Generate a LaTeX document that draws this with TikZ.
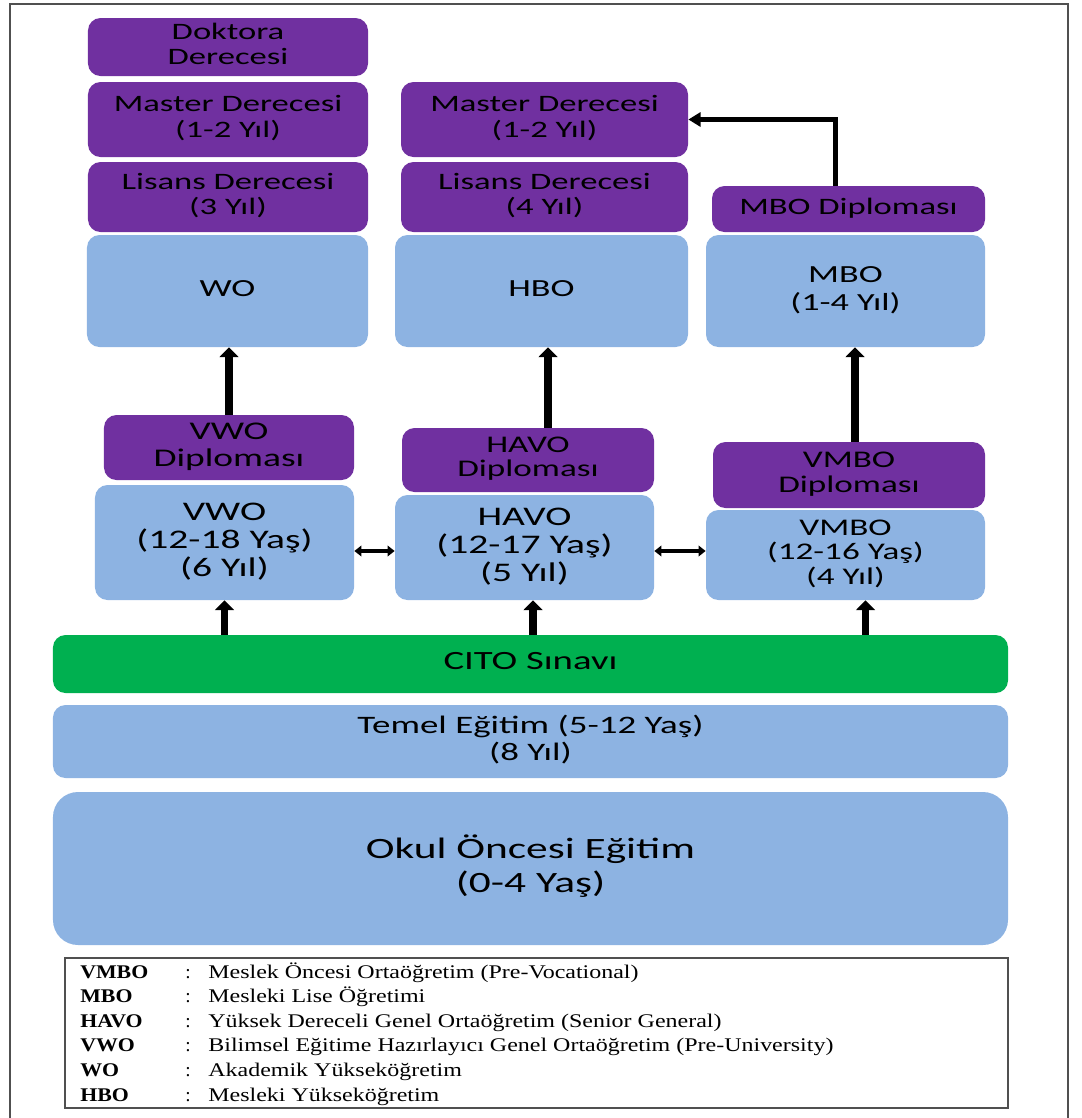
\documentclass[tikz,border=0pt]{standalone}
\usepackage{fontspec}
\setmainfont{Carlito}
\newfontfamily\legendfont{Liberation Serif}
\usepackage{graphicx}
\usetikzlibrary{positioning,arrows.meta}
\definecolor{cDeg}{RGB}{112,48,160}
\definecolor{cLvl}{RGB}{141,179,226}
\definecolor{cCito}{RGB}{0,176,80}
\definecolor{cFrame}{RGB}{80,80,80}
% box texts are set wide, as in the reference
\newcommand{\wtxt}[1]{\scalebox{1.47}[1]{\begin{tabular}{@{}c@{}}#1\end{tabular}}}
\newcommand{\ltxt}[1]{\scalebox{1.24}[1]{#1}}

\begin{document}
\begin{tikzpicture}[x=0.2mm,y=-0.2mm,
   box/.style={rounded corners=2.5mm,inner sep=0pt,text=black,font=\fontsize{13.4}{14.6}\selectfont},
   degbox/.style={box,fill=cDeg},
   lvlbox/.style={box,fill=cLvl},
   uparrow/.style={line width=4.2pt,-{Triangle[length=5.5pt,width=10.5pt]}},
   sidearrow/.style={line width=2.3pt,-{Triangle[length=7pt,width=8pt]}},
   twoway/.style={line width=2pt,{Triangle[length=4pt,width=6pt]}-{Triangle[length=4pt,width=6pt]}},
   legtxt/.style={anchor=base west,inner sep=0pt,font=\legendfont\fontsize{11}{13}\selectfont}]
 \useasboundingbox (0,0) rectangle (1082,1118);
 \draw[cFrame,line width=1.2pt] (10,1118) -- (10,4) -- (1068,4) -- (1068,1118);
 % university column (WO)
 \node[degbox,minimum width=56mm,minimum height=11.6mm] (doktora) at (228,47) {\wtxt{Doktora\\Derecesi}};
 \node[degbox,minimum width=56mm,minimum height=15mm] (master1) at (228,119.5) {\wtxt{Master Derecesi\\(1-2 Yıl)}};
 \node[degbox,minimum width=56mm,minimum height=14mm] (lisans1) at (228,197) {\wtxt{Lisans Derecesi\\(3 Yıl)}};
 \node[lvlbox,minimum width=56.2mm,minimum height=22.4mm,font=\fontsize{14}{15}\selectfont] (wo) at (227.5,291) {\wtxt{WO}};
 % HBO column
 \node[degbox,minimum width=57.4mm,minimum height=15mm] (master2) at (544.5,119.5) {\wtxt{Master Derecesi\\(1-2 Yıl)}};
 \node[degbox,minimum width=57.4mm,minimum height=14mm] (lisans2) at (544.5,197) {\wtxt{Lisans Derecesi\\(4 Yıl)}};
 \node[lvlbox,minimum width=58.6mm,minimum height=22.4mm,font=\fontsize{14}{15}\selectfont] (hbo) at (541.5,291) {\wtxt{HBO}};
 % MBO column
 \node[degbox,minimum width=54.6mm,minimum height=9.2mm] (mbodip) at (848.5,209) {\wtxt{MBO Diplomas\i}};
 \node[lvlbox,minimum width=55.8mm,minimum height=22.4mm,font=\fontsize{14}{15.5}\selectfont] (mbo) at (845.5,291) {\wtxt{MBO\\(1-4 Yıl)}};
 % secondary level
 \node[degbox,minimum width=50mm,minimum height=13mm,font=\fontsize{14.5}{15.5}\selectfont] (vwodip) at (229,447.5) {\wtxt{VWO\\Diplomas\i}};
 \node[lvlbox,minimum width=51.8mm,minimum height=23mm,font=\fontsize{15.3}{15.8}\selectfont] (vwo) at (224.5,542.5) {\wtxt{VWO\\(12-18 Yaş)\\(6 Yıl)}};
 \node[degbox,minimum width=50.4mm,minimum height=12.8mm,font=\fontsize{13.6}{12.5}\selectfont] (havodip) at (528,460) {\wtxt{HAVO\\Diplomas\i}};
 \node[lvlbox,minimum width=51.8mm,minimum height=21mm,font=\fontsize{15.3}{15.8}\selectfont] (havo) at (524.5,547.5) {\wtxt{HAVO\\(12-17 Yaş)\\(5 Yıl)}};
 \node[degbox,minimum width=54.4mm,minimum height=13.2mm,font=\fontsize{13.6}{14.2}\selectfont] (vmbodip) at (849,475) {\wtxt{VMBO\\Diplomas\i}};
 \node[lvlbox,minimum width=55.8mm,minimum height=18mm,font=\fontsize{13.6}{14}\selectfont] (vmbo) at (845.5,555) {\wtxt{VMBO\\(12-16 Yaş)\\(4 Yıl)}};
 % common base
 \node[box,fill=cCito,minimum width=191mm,minimum height=11.6mm,font=\fontsize{15}{16}\selectfont] (cito) at (530.5,664) {\wtxt{CITO S\i nav\i}};
 \node[lvlbox,minimum width=191mm,minimum height=14.6mm,font=\fontsize{14.3}{15.8}\selectfont] (temel) at (530.5,741.5) {\wtxt{Temel Eğitim (5-12 Yaş)\\(8 Yıl)}};
 \node[lvlbox,rounded corners=5mm,minimum width=191mm,minimum height=30.6mm,font=\fontsize{16.8}{19.3}\selectfont] (okul) at (530.5,868.5) {\wtxt{Okul Öncesi Eğitim\\(0-4 Yaş)}};
 % arrows
 \draw[uparrow] (vwodip.north) -- (vwodip.north |- wo.south);
 \draw[uparrow] ([xshift=4mm]havodip.north) -- ([xshift=4mm]havodip.north |- hbo.south);
 \draw[uparrow] ([xshift=1.2mm]vmbodip.north) -- ([xshift=1.2mm]vmbodip.north |- mbo.south);
 \draw[sidearrow] ([xshift=-2.6mm]mbodip.north) |- (master2.east);
 \foreach \s/\dx in {vwo/0mm,havo/1.7mm,vmbo/4mm}
   \draw[uparrow] ([xshift=\dx]\s.south |- cito.north) -- ([xshift=\dx]\s.south);
 \coordinate (midy) at (0,551);
 \draw[twoway] (vwo.east |- midy) -- (havo.west |- midy);
 \draw[twoway] (havo.east |- midy) -- (vmbo.west |- midy);
 % legend
 \draw[cFrame,line width=1pt] (65,958) rectangle (1008,1108);
 \foreach \ab/\desc [count=\r] in {VMBO/{Meslek Öncesi Ortaöğretim (Pre-Vocational)},
     MBO/{Mesleki Lise Öğretimi},
     HAVO/{Yüksek Dereceli Genel Ortaöğretim (Senior General)},
     VWO/{Bilimsel Eğitime Hazırlayıcı Genel Ortaöğretim (Pre-University)},
     WO/{Akademik Yükseköğretim},
     HBO/{Mesleki Yükseköğretim}} {
   \pgfmathsetmacro{\ly}{978+(\r-1)*24.6}
   \node[legtxt,font=\legendfont\fontsize{11}{13}\selectfont\bfseries] (ab\r) at (80,\ly) {\scalebox{1.13}[1]{\ab}};
   \node[legtxt] (col\r) at (185,\ly) {:};
   \node[legtxt] (desc\r) at (208,\ly) {\ltxt{\desc}};
 }
\end{tikzpicture}
\end{document}
